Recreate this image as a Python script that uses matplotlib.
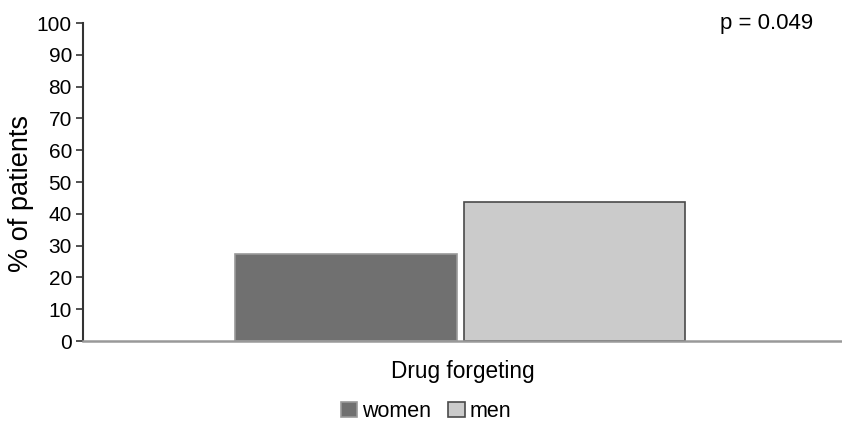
import matplotlib.pyplot as plt
import numpy as np

plt.rcParams['font.family'] = ['Liberation Sans', 'DejaVu Sans']

# Share of patients reporting drug forgetting, by sex
categories = ['Drug forgeting']
groups = ['women', 'men']
values = [27.3, 43.6]
p_text = 'p = 0.049'

fig = plt.figure(figsize=(8.42, 4.25), dpi=100)
ax = fig.add_axes([0.0986, 0.1976, 0.9014, 0.7482])

x = np.arange(len(categories))
width = 0.292
offsets = [-0.1535, 0.1475]
fills = ['#707070', '#cbcbcb']
edges = ['#9a9a9a', '#4a4a4a']

for g, val, off, fc, ec in zip(groups, values, offsets, fills, edges):
    ax.bar(x + off, [val], width, color=fc, edgecolor=ec, linewidth=1.2, label=g, zorder=2)

ax.set_xlim(-0.5, 0.5)
ax.set_ylim(0, 100)
ax.set_yticks(range(0, 101, 10))
ax.set_xticks([])
ax.tick_params(axis='y', labelsize=15, length=5, width=1.2, color='#333333', pad=3)

ax.spines['top'].set_visible(False)
ax.spines['right'].set_visible(False)
ax.spines['left'].set_color('#333333')
ax.spines['left'].set_linewidth(1.5)
ax.spines['bottom'].set_color('#999999')
ax.spines['bottom'].set_linewidth(1.8)

fig.text(21 / 842, 1 - 193 / 425, '% of patients', rotation=90,
         ha='center', va='center', fontsize=19.5)
ax.text(0.0, -0.095, categories[0], transform=ax.get_xaxis_transform(),
        ha='center', va='center', fontsize=16.3)
ax.text(0.9, 1.0, p_text, transform=ax.transAxes, ha='center', va='center', fontsize=16)

ax.legend(loc='center', bbox_to_anchor=(0.452, -0.223), ncol=2, frameon=False,
          fontsize=15.5, handlelength=0.75, handleheight=0.7, handletextpad=0.25,
          columnspacing=0.8, borderaxespad=0)

fig.savefig('out.png', dpi=100)
